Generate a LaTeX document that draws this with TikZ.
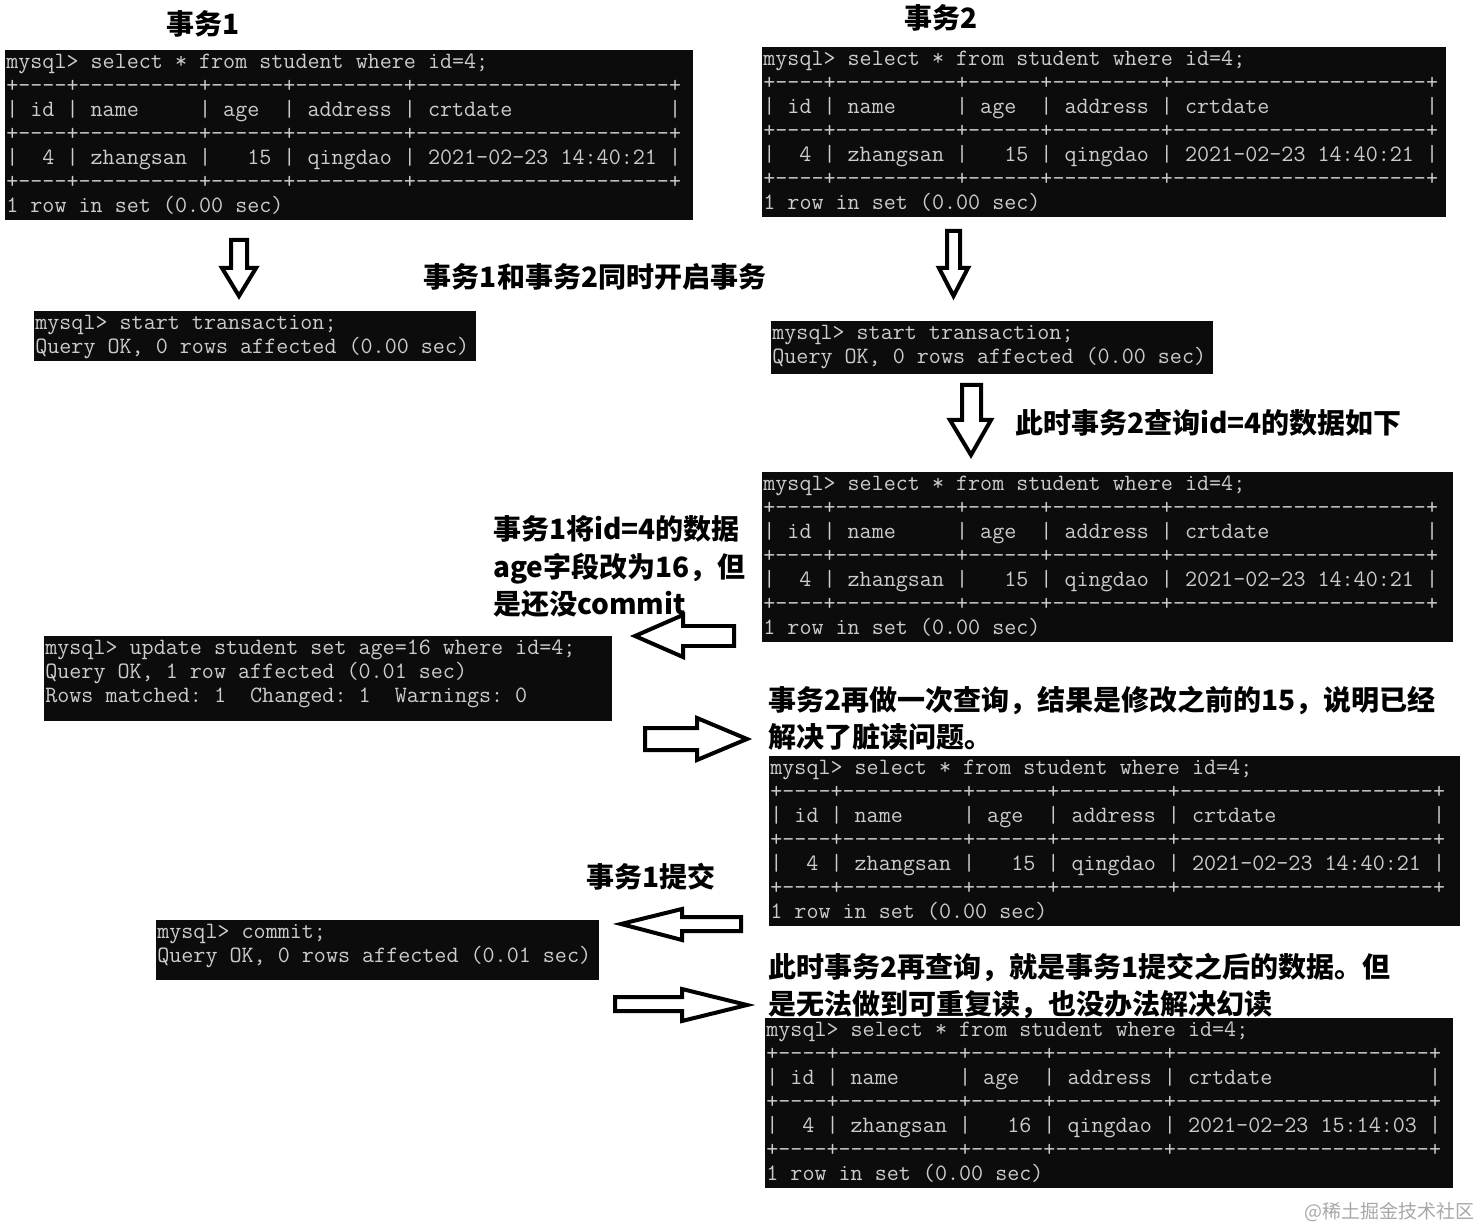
\documentclass[tikz,border=0pt]{standalone}
\usepackage{fontspec}
\usepackage{tikz}
\newfontfamily\cjk{Noto Sans CJK SC}
\definecolor{noirterm}{HTML}{0C0C0C}
\definecolor{gristerm}{HTML}{CCCCCC}
\definecolor{grisfiligrane}{HTML}{A8A8A8}
% une case de terminal par ~
\newcommand\termfont{\ttfamily\fontsize{0.468cm}{0.48cm}\selectfont\def~{\phantom{x}}}
\newcommand\legendefont{\cjk\bfseries\fontsize{0.56cm}{0.75cm}\selectfont}
\tikzset{
  terminal/.style={fill=noirterm,text=gristerm,anchor=north west,align=left,
                   inner sep=0.02cm,font=\termfont},
  legende/.style={font=\legendefont,align=left,inner sep=0pt},
  fleche/.style={draw=black,line width=0.08cm,fill=white,line join=miter},
}

\begin{document}
\begin{tikzpicture}[x=0.02cm,y=-0.02cm]
  \useasboundingbox[fill=white] (0,0) rectangle (1481,1229);
  % titres
  \node[legende] (titre1) at (203,24) {事务1};
  \node[legende] (titre2) at (941,18) {事务2};
  % premiere lecture
  \node[terminal,text width=13.72cm] (t1select) at (5,50) {\strut mysql>~select~*~from~student~where~id=4;\\
+----+----------+------+---------+---------------------+\\
|~id~|~name~~~~~|~age~~|~address~|~crtdate~~~~~~~~~~~~~|\\
+----+----------+------+---------+---------------------+\\
|~~4~|~zhangsan~|~~~15~|~qingdao~|~2021-02-23~14:40:21~|\\
+----+----------+------+---------+---------------------+\\
1~row~in~set~(0.00~sec)\strut};
  \node[terminal,text width=13.64cm] (t2select) at (762,47) {\strut mysql>~select~*~from~student~where~id=4;\\
+----+----------+------+---------+---------------------+\\
|~id~|~name~~~~~|~age~~|~address~|~crtdate~~~~~~~~~~~~~|\\
+----+----------+------+---------+---------------------+\\
|~~4~|~zhangsan~|~~~15~|~qingdao~|~2021-02-23~14:40:21~|\\
+----+----------+------+---------+---------------------+\\
1~row~in~set~(0.00~sec)\strut};
  % ouverture des transactions
  \draw[fleche] (231,240) -- (247,240) -- (247,268) -- (256,268) -- (239,296) -- (222,268) -- (231,268) -- cycle;
  \draw[fleche] (947,231) -- (960,231) -- (960,268) -- (968,268) -- (953.5,296) -- (939,268) -- (947,268) -- cycle;
  \node[legende] (ouverture) at (595,277) {事务1和事务2同时开启事务};
  \node[terminal,text width=8.80cm] (t1debut) at (34,311) {\strut mysql>~start~transaction;\\
Query~OK,~0~rows~affected~(0.00~sec)\strut};
  \node[terminal,text width=8.80cm,text depth=0.68cm] (t2debut) at (771,321) {\strut mysql>~start~transaction;\\
Query~OK,~0~rows~affected~(0.00~sec)\strut};
  % lecture dans la transaction 2
  \draw[fleche] (962,385) -- (981,385) -- (981,420) -- (991,420) -- (971,455) -- (950,420) -- (962,420) -- cycle;
  \node[legende,anchor=west] (requete) at (1015,423) {此时事务2查询id=4的数据如下};
  \node[terminal,text width=13.78cm] (t2lecture) at (762,472) {\strut mysql>~select~*~from~student~where~id=4;\\
+----+----------+------+---------+---------------------+\\
|~id~|~name~~~~~|~age~~|~address~|~crtdate~~~~~~~~~~~~~|\\
+----+----------+------+---------+---------------------+\\
|~~4~|~zhangsan~|~~~15~|~qingdao~|~2021-02-23~14:40:21~|\\
+----+----------+------+---------+---------------------+\\
1~row~in~set~(0.00~sec)\strut};
  % modification dans la transaction 1
  \node[legende,anchor=west] (modif) at (493,567) {事务1将id=4的数据\\age字段改为16，但\\是还没commit};
  \draw[fleche] (635,636) -- (683,615) -- (683,626) -- (734,626) -- (734,646) -- (683,646) -- (683,657) -- cycle;
  \node[terminal,text width=11.32cm,text depth=1.32cm] (t1maj) at (44,636) {\strut mysql>~update~student~set~age=16~where~id=4;\\
Query~OK,~1~row~affected~(0.01~sec)\\
Rows~matched:~1~~Changed:~1~~Warnings:~0\strut};
  \draw[fleche] (645,728) -- (697,728) -- (697,718) -- (747,739) -- (697,760) -- (697,750) -- (645,750) -- cycle;
  % relecture : pas de lecture sale
  \node[legende,anchor=west] (sale) at (768,718) {事务2再做一次查询，结果是修改之前的15，说明已经\\解决了脏读问题。};
  \node[terminal,text width=13.78cm] (t2relecture) at (769,756) {\strut mysql>~select~*~from~student~where~id=4;\\
+----+----------+------+---------+---------------------+\\
|~id~|~name~~~~~|~age~~|~address~|~crtdate~~~~~~~~~~~~~|\\
+----+----------+------+---------+---------------------+\\
|~~4~|~zhangsan~|~~~15~|~qingdao~|~2021-02-23~14:40:21~|\\
+----+----------+------+---------+---------------------+\\
1~row~in~set~(0.00~sec)\strut};
  % validation de la transaction 1
  \node[legende] (validation) at (651,877) {事务1提交};
  \draw[fleche] (621,924) -- (682,909) -- (682,917) -- (741,917) -- (741,931) -- (682,931) -- (682,940) -- cycle;
  \node[terminal,text width=8.82cm,text depth=0.82cm] (t1commit) at (156,920) {\strut mysql>~commit;\\
Query~OK,~0~rows~affected~(0.01~sec)\strut};
  \draw[fleche] (615,997) -- (682,997) -- (682,989) -- (747,1005) -- (682,1021) -- (682,1011) -- (615,1011) -- cycle;
  % lecture apres validation
  \node[legende,anchor=west] (fantome) at (768,986) {此时事务2再查询，就是事务1提交之后的数据。但\\是无法做到可重复读，也没办法解决幻读};
  \node[terminal,text width=13.72cm] (t2final) at (765,1018) {\strut mysql>~select~*~from~student~where~id=4;\\
+----+----------+------+---------+---------------------+\\
|~id~|~name~~~~~|~age~~|~address~|~crtdate~~~~~~~~~~~~~|\\
+----+----------+------+---------+---------------------+\\
|~~4~|~zhangsan~|~~~16~|~qingdao~|~2021-02-23~15:14:03~|\\
+----+----------+------+---------+---------------------+\\
1~row~in~set~(0.00~sec)\strut};
  \node[anchor=east,inner sep=0pt,text=grisfiligrane,font=\cjk\fontsize{0.38cm}{0.45cm}\selectfont] (filigrane) at (1475,1212) {@稀土掘金技术社区};
\end{tikzpicture}
\end{document}
